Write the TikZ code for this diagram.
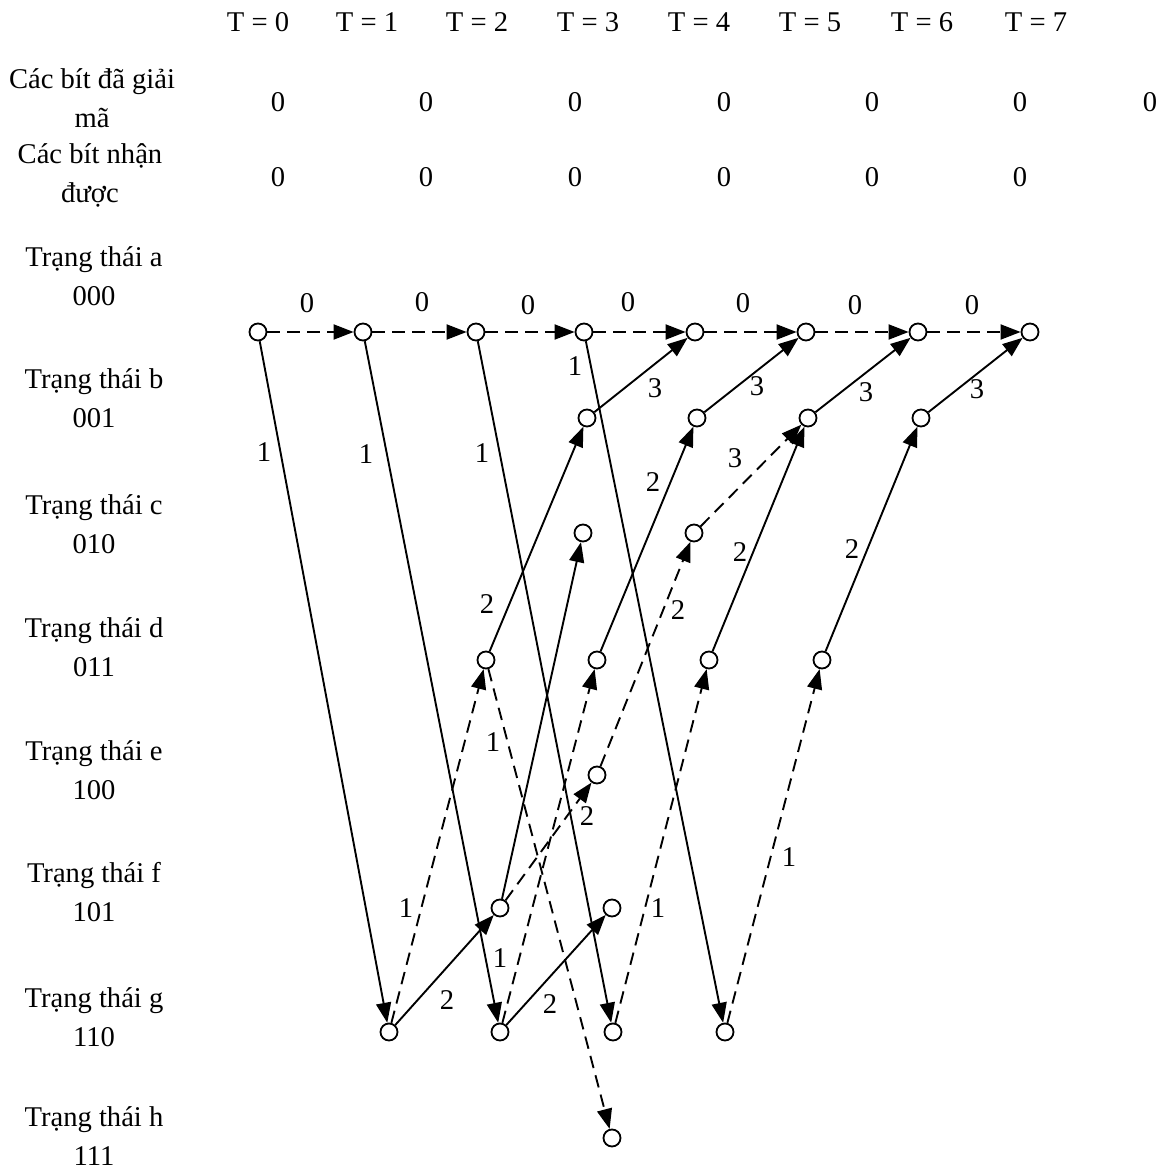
\documentclass[tikz,border=0pt]{standalone}
\usepackage{fontspec}
\setmainfont{Liberation Serif}
\usetikzlibrary{arrows.meta}
\begin{document}
\begin{tikzpicture}[x=0.5pt,y=-0.5pt,
  st/.style={circle,draw,line width=0.9pt,minimum size=8.5pt,inner sep=0pt,fill=white},
  txt/.style={font=\fontsize{14.3}{19.5}\selectfont,inner sep=0pt,align=center},
  lab/.style={font=\fontsize{14.3}{19.5}\selectfont,inner sep=0pt},
  sol/.style={line width=0.95pt,-{Triangle[length=10pt,width=7.5pt]}},
  dsh/.style={sol,dash pattern=on 6.3pt off 3.7pt}
]
\useasboundingbox (0,0) rectangle (1173,1171);
% header
\foreach \i/\x in {0/258,1/367,2/477,3/588,4/699,5/810,6/922,7/1036}
  \node[lab] (T\i) at (\x,22) {T = \i};
\node[txt] (dec) at (92,98) {Các bít đã giải\\mã};
\node[txt] (rec) at (90,175) {Các bít nhận\\được};
\foreach \i/\x in {0/278,1/426,2/575,3/724,4/872,5/1020,6/1150}
  \node[lab] (d\i) at (\x,102) {0};
\foreach \i/\x in {0/278,1/426,2/575,3/724,4/872,5/1020}
  \node[lab] (r\i) at (\x,177) {0};
% state labels
\foreach \s/\c/\y in {a/000/276,b/001/398,c/010/524,d/011/647,e/100/770,f/101/892,g/110/1017,h/111/1136}
  \node[txt] (lbl\s) at (94,\y) {Trạng thái \s\\\c};
% trellis nodes
\foreach \i/\x in {0/258,1/363,2/476,3/584,4/695,5/806,6/918,7/1030}
  \node[st] (a\i) at (\x,332) {};
\foreach \i/\x in {3/587,4/697,5/808,6/921}
  \node[st] (b\i) at (\x,418) {};
\node[st] (c3) at (583,533) {};
\node[st] (c4) at (694,533) {};
\foreach \i/\x in {2/486,3/597,4/709,5/822}
  \node[st] (dd\i) at (\x,660) {};
\node[st] (e3) at (597,775) {};
\node[st] (f2) at (500,908) {};
\node[st] (f3) at (612,908) {};
\foreach \i/\x in {1/389,2/500,3/613,4/725}
  \node[st] (g\i) at (\x,1032) {};
\node[st] (h3) at (612,1138) {};
% edges
\foreach \i [evaluate=\i as \j using int(\i+1)] in {0,...,6}
  \draw[dsh] (a\i) -- (a\j);
\draw[sol] (a0) -- (g1);
\draw[sol] (a1) -- (g2);
\draw[sol] (a2) -- (g3);
\draw[sol] (a3) -- (g4);
\draw[sol] (g1) -- (f2);
\draw[sol] (g2) -- (f3);
\draw[dsh] (g1) -- (dd2);
\draw[dsh] (g2) -- (dd3);
\draw[dsh] (g3) -- (dd4);
\draw[dsh] (g4) -- (dd5);
\draw[dsh] (dd2) -- (h3);
\draw[sol] (f2) -- (c3);
\draw[dsh] (f2) -- (e3);
\draw[dsh] (e3) -- (c4);
\draw[dsh] (c4) -- (b5);
\draw[sol] (dd2) -- (b3);
\draw[sol] (dd3) -- (b4);
\draw[sol] (dd4) -- (b5);
\draw[sol] (dd5) -- (b6);
\draw[sol] (b3) -- (a4);
\draw[sol] (b4) -- (a5);
\draw[sol] (b5) -- (a6);
\draw[sol] (b6) -- (a7);
% edge labels
\foreach \k/\x/\y in {1/307/303,2/422/302,3/528/305,4/628/302,5/743/303,6/855/305,7/972/305}
  \node[lab] (z\k) at (\x,\y) {0};
\foreach \k/\x/\y in {1/264/452,2/366/454,3/482/453,4/575/366,5/493/742,6/406/908,7/500/958,8/658/908,9/789/857}
  \node[lab] (o\k) at (\x,\y) {1};
\foreach \k/\x/\y in {1/487/604,2/653/482,3/678/610,4/740/552,5/852/549,6/587/816,7/447/1000,8/550/1004}
  \node[lab] (t\k) at (\x,\y) {2};
\foreach \k/\x/\y in {1/655/388,2/757/386,3/866/392,4/977/389,5/735/458}
  \node[lab] (h\k) at (\x,\y) {3};
\end{tikzpicture}
\end{document}
